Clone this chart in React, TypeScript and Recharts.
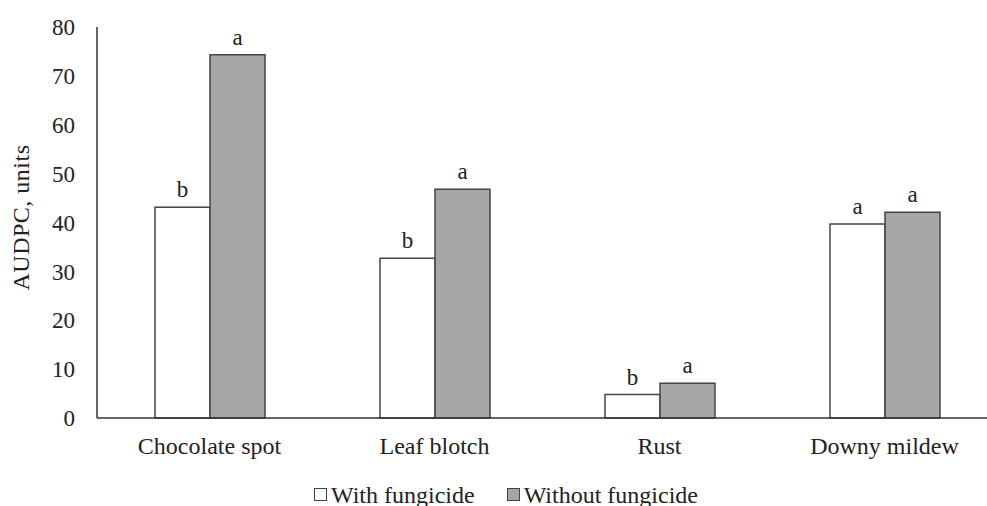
import React from 'react';
import { BarChart, Bar, XAxis, YAxis, Legend, LabelList } from 'recharts';

const diseases = ['Chocolate spot', 'Leaf blotch', 'Rust', 'Downy mildew'];
const withFungicide = [43.1, 32.7, 4.8, 39.7];
const withoutFungicide = [74.3, 46.8, 7.1, 42.1];
const withLetters = ['b', 'b', 'b', 'a'];
const withoutLetters = ['a', 'a', 'a', 'a'];
const yTicks = [0, 10, 20, 30, 40, 50, 60, 70, 80];

const data = diseases.map((name, i) => ({
  name,
  withF: withFungicide[i],
  withoutF: withoutFungicide[i],
  withL: withLetters[i],
  withoutL: withoutLetters[i],
}));

const FONT = '"Liberation Serif", "Times New Roman", serif';
const INK = '#222';
const GREY = '#a6a6a6';

function LegendBox() {
  const item = (fill: string, text: string, gap: number) => (
    <span style={{ display: 'inline-flex', alignItems: 'center', marginRight: gap }}>
      <span
        style={{
          width: 11,
          height: 11,
          border: '1.5px solid #444',
          background: fill,
          marginRight: 4,
          display: 'inline-block',
        }}
      />
      <span>{text}</span>
    </span>
  );
  return (
    <div style={{ fontFamily: FONT, fontSize: 24, lineHeight: '26px', color: INK, whiteSpace: 'nowrap' }}>
      {item('#fff', 'With fungicide', 32)}
      {item(GREY, 'Without fungicide', 0)}
    </div>
  );
}

export default function App() {
  return (
    <div style={{ position: 'absolute', top: 0, left: 0, width: 987, height: 506, overflow: 'hidden', background: '#fff' }}>
      <BarChart
        width={1000}
        height={506}
        data={data}
        margin={{ top: 27, right: 3, bottom: 88 - 50, left: 0 }}
        barCategoryGap={58}
        barGap={0}
      >
        <XAxis
          dataKey="name"
          height={50}
          tickSize={0}
          tickMargin={19}
          axisLine={{ stroke: '#333', strokeWidth: 1.5 }}
          tick={{ fontFamily: FONT, fontSize: 24, fill: INK }}
          interval={0}
        />
        <YAxis
          width={97}
          domain={[0, 80]}
          ticks={yTicks}
          tickSize={0}
          tickMargin={22}
          axisLine={{ stroke: '#333', strokeWidth: 1.5 }}
          tick={{ fontFamily: FONT, fontSize: 23, fill: INK }}
          label={{
            value: 'AUDPC, units',
            angle: -90,
            position: 'center',
            dx: -28,
            dy: -5,
            style: { fontFamily: FONT, fontSize: 24, fill: INK, textAnchor: 'middle', letterSpacing: 0.5 },
          }}
        />
        <Legend
          layout="horizontal"
          verticalAlign="middle"
          align="center"
          wrapperStyle={{ top: 480, left: 314, width: 'auto', height: 26 }}
          content={() => <LegendBox />}
        />
        <Bar dataKey="withF" fill="#fff" stroke="#444" strokeWidth={1.5} isAnimationActive={false}>
          <LabelList dataKey="withL" position="top" offset={10} style={{ fontFamily: FONT, fontSize: 23, fill: INK }} />
        </Bar>
        <Bar dataKey="withoutF" fill={GREY} stroke="#444" strokeWidth={1.5} isAnimationActive={false}>
          <LabelList dataKey="withoutL" position="top" offset={10} style={{ fontFamily: FONT, fontSize: 23, fill: INK }} />
        </Bar>
      </BarChart>
    </div>
  );
}
